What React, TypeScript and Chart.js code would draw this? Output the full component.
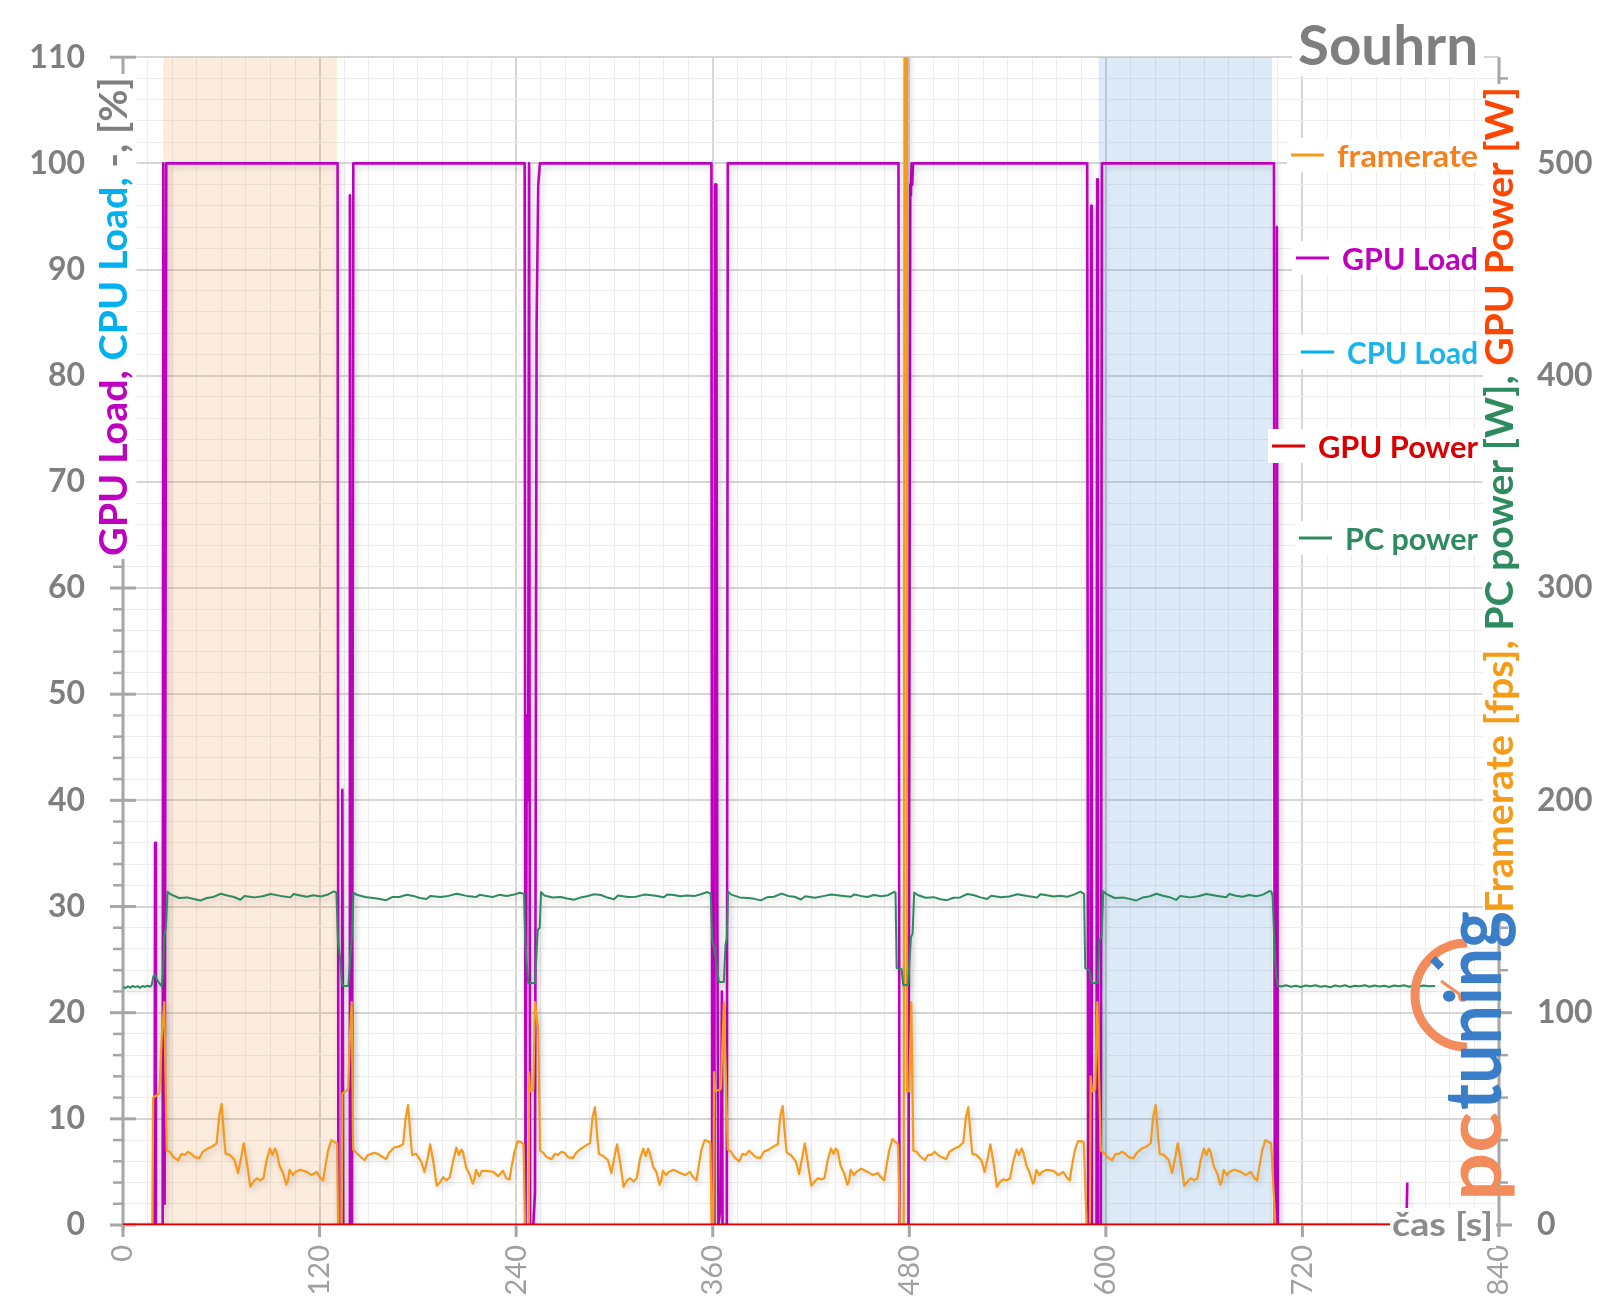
import React, { useEffect, useRef } from 'react';
import { Chart, registerables } from 'chart.js';

Chart.register(...registerables);

const FONT = 'Lato, "Open Sans", "DejaVu Sans", sans-serif';

// ---------------- tick labels ----------------
const xTickLabels = [0, 120, 240, 360, 480, 600, 720, 840];
const leftTickLabels = [0, 10, 20, 30, 40, 50, 60, 70, 80, 90, 100, 110];
const rightTickLabels = [0, 100, 200, 300, 400, 500];

// ---------------- highlighted intervals (s) ----------------
const bandStart = [24.6, 595.5];
const bandEnd = [130.5, 701.5];
const bandColor = ['rgba(240,140,60,0.17)', 'rgba(55,135,215,0.17)'];

// ---------------- GPU Load [%] (time s, value) ----------------
const gpuLoad: number[][] = [
  [0, 0], [19.2, 0], [19.6, 36], [20.1, 0], [24.2, 0], [24.6, 100], [25.4, 2], [26.4, 100],
  [131, 100], [131.5, 0], [133.5, 0], [133.9, 41], [134.4, 0], [138, 0], [138.5, 97], [139.1, 0], [139.8, 0], [140.6, 100],
  [245.2, 100], [245.7, 0], [246.5, 48], [247, 40], [247.4, 48], [247.9, 100], [248.5, 0], [250.5, 0], [251.5, 3], [252.5, 85], [253.5, 98], [254.5, 100],
  [359.2, 100], [359.7, 0], [361, 0], [361.4, 98], [361.8, 71], [362.2, 98], [362.8, 30], [363.5, 0], [365, 2], [365.6, 22], [366, 0], [368.6, 0], [369.2, 100],
  [473.4, 100], [474, 0], [479.5, 0], [480.6, 98], [481, 97], [481.4, 100], [481.8, 98], [482.3, 100],
  [588.6, 100], [589.2, 0], [590.6, 0], [591, 96], [591.4, 0], [594.3, 0], [594.7, 98.5], [595.1, 0], [596.9, 0], [597.6, 100],
  [702.6, 100], [703.1, 0], [704, 0], [704.4, 94], [705, 0], [783.5, 0], [784, 4],
];

// ---------------- CPU Load [%] and GPU Power [W] ----------------
const cpuLoad: number[][] = [[0, 0], [774, 0]];
const gpuPower: number[][] = [[0, 0], [774, 0]];

// ---------------- Framerate [fps] ----------------
const fpsBlockStart = [26.7, 140.5, 254.6, 369.2, 482.5, 596.9];
const fpsOffsets = [0, 2, 4, 7, 9, 11, 13, 15, 17, 20, 22, 25, 28, 30.5, 32, 33.5, 35, 36, 38.5, 41.5, 43.5, 45.5, 47, 49, 51, 53, 55, 57, 59, 61, 63, 64.5, 66, 67, 69, 71, 73, 74, 75, 77, 78.5, 81.5, 85.5, 88.5, 91.5, 93.5, 95.5, 96.5, 98.5, 100.5, 102.5, 104];
const fpsRun1 = [35, 34.5, 32, 30.5, 33.5, 33, 34.5, 33.5, 32, 31.5, 34.5, 36, 37, 38.5, 51, 57, 41.5, 33.5, 33, 30.5, 24.5, 32, 38.5, 29, 18, 20.5, 22, 21, 22, 30.5, 36, 33, 36, 34.5, 27.5, 24.5, 19, 21, 26, 23.5, 25, 26, 25, 23.5, 25, 22.5, 21, 26, 35, 40, 39, 38.5];
const fpsRun2 = [35.5, 34, 32.5, 30.5, 33, 33.5, 34, 33.5, 32.5, 31, 34, 36.5, 37, 38, 50, 56.5, 42, 33, 33.5, 30, 25, 31.5, 38, 29.5, 18.5, 20, 22.5, 21, 22.5, 30, 36.5, 33, 35.5, 34.5, 27, 24, 19.5, 21.5, 26, 23, 25.5, 25.5, 25, 23, 25.5, 22, 21.5, 26.5, 34.5, 39.5, 39, 38];
const fpsRun3 = [35, 34, 32, 31, 33.5, 33, 34.5, 34, 32, 31.5, 34, 36, 37.5, 38.5, 50.5, 55.5, 41, 33.5, 32.5, 30.5, 24.5, 32.5, 38, 29, 18, 21, 22, 20.5, 22, 31, 36, 32.5, 36, 34, 27.5, 25, 19, 21, 25.5, 23.5, 25, 26, 24.5, 23.5, 25, 22.5, 21, 26, 35.5, 40, 39.5, 38.5];
const fpsRun4 = [35.5, 34.5, 32, 30, 33.5, 33, 35, 33.5, 32, 31.5, 34.5, 35.5, 37, 38, 51, 56, 41.5, 34, 33, 30, 24, 32, 38.5, 28.5, 18.5, 20.5, 22, 21.5, 22, 30.5, 36, 33.5, 36, 35, 27.5, 24.5, 19, 20.5, 26, 23.5, 25, 26.5, 25, 23.5, 24.5, 22.5, 21, 26, 35, 40.5, 39, 38];
const fpsRun5 = [35, 34.5, 32.5, 30.5, 33, 33, 34.5, 33, 32, 31, 34.5, 36, 37, 39, 50.5, 55.5, 41.5, 33.5, 33, 30.5, 25, 32, 38, 29, 18, 20.5, 21.5, 21, 22, 30, 35.5, 33, 36, 34.5, 28, 24.5, 19.5, 21, 26, 23.5, 25, 26, 25.5, 23.5, 25, 22.5, 21, 26.5, 35, 39.5, 39.5, 39];
const fpsRun6 = [35, 34, 32, 30.5, 33.5, 33.5, 34.5, 33.5, 32, 31.5, 34, 36, 37, 38.5, 51, 56.5, 41.5, 33.5, 33, 30.5, 24.5, 32, 38.5, 29, 18.5, 20.5, 22, 21, 22, 30.5, 36, 33, 36, 34.5, 27.5, 24.5, 19, 21, 26, 23.5, 25, 26, 25, 23.5, 25, 22.5, 21, 26, 35, 40, 39, 38.5];
const fpsLead: number[][] = [[0, 0], [17.9, 0], [18.4, 60], [20.5, 61], [22.2, 62], [23.6, 88], [25.2, 105]];
const fpsGap1: number[][] = [[131.3, 0], [133.5, 0], [133.9, 62], [136, 63], [137.5, 64], [138.6, 90], [139.6, 105]];
const fpsGap2: number[][] = [[245.4, 0], [247.4, 0], [247.8, 72], [248.5, 63], [250.5, 64], [251.5, 105], [253.5, 92]];
const fpsGap3: number[][] = [[359.4, 0], [360.4, 0], [360.8, 72], [361.5, 63], [365, 64], [366.8, 105]];
const fpsGap4: number[][] = [[474.2, 0], [476.6, 0], [477.2, 700], [478.2, 700], [478.6, 63], [480, 63], [481.2, 105]];
const fpsGap5: number[][] = [[588.3, 0], [590.3, 0], [590.7, 70], [591.5, 63], [593.5, 64], [594.8, 105]];
const fpsTail: number[][] = [[703.5, 0], [774, 0]];

// ---------------- PC power [W] ----------------
const pcBlockStart = [27.2, 140.7, 255.2, 369.4, 483, 598.4];
const pcOffsets = [0, 2, 7, 12, 16, 20, 24, 28, 32.5, 36.5, 40.5, 44.5, 47, 53, 58, 63, 69, 75, 77, 81, 85, 89, 93.5, 97.5, 101.5];
const pcRun1 = [157, 155.7, 154, 154.3, 153.5, 152.8, 154, 154.5, 156, 155.2, 154.5, 153.2, 155, 154.3, 154.8, 155.9, 155, 154.3, 155.9, 155.2, 154.6, 155.3, 154.7, 155.5, 157.1];
const pcRun2 = [156.5, 155.5, 154.5, 154, 153.5, 153, 154.5, 154.5, 155.5, 155, 154, 153.5, 155, 154.5, 155, 156, 155, 154.5, 155.5, 155, 154.5, 155.5, 155, 155.5, 156.5];
const pcRun3 = [156.8, 155.2, 154.2, 154.5, 153.8, 153.2, 154.2, 154.8, 155.8, 155.4, 154.2, 153.4, 155.2, 154.5, 154.6, 155.6, 155.2, 154.4, 155.6, 155.4, 154.8, 155.2, 154.9, 155.8, 156.8];
const pcRun4 = [157, 155.6, 154.3, 154, 153.6, 152.9, 154.4, 154.6, 156.1, 155, 154.6, 153.3, 154.8, 154.1, 154.9, 155.7, 155.1, 154.6, 155.7, 155, 154.5, 155.4, 154.8, 155.3, 156.9];
const pcRun5 = [156.6, 155.4, 154.1, 154.4, 153.4, 153, 154.1, 154.3, 155.9, 155.3, 154.3, 153.5, 155.1, 154.4, 154.7, 155.8, 154.9, 154.2, 155.8, 155.3, 154.7, 155.1, 154.6, 155.6, 157];
const pcRun6 = [157.2, 155.8, 154, 154.2, 153.6, 152.8, 154.2, 154.7, 156, 155.1, 154.4, 153.1, 155, 154.3, 154.8, 155.9, 155.1, 154.4, 155.9, 155.1, 154.6, 155.4, 154.8, 155.6, 157.3];
const pcLead: number[][] = [[0, 112.2], [1.5, 111.6], [3, 112.4], [4.5, 111.8], [6, 112.6], [7.5, 112], [9, 112.5], [10.5, 111.7], [12, 112.6], [13.5, 112.1], [15, 112.7], [16.5, 112.2], [17.5, 113], [18.5, 117], [19.4, 118], [20.5, 116], [22, 114], [23.6, 112.5], [24.4, 118], [25.2, 136], [26.2, 140]];
const pcGap1: number[][] = [[130.3, 156.5], [131.2, 134], [132.6, 125], [133.6, 114], [134.5, 112.6], [137.6, 112.6], [138.6, 124.6], [139.6, 135]];
const pcGap2: number[][] = [[244.8, 156], [245.6, 132], [247.4, 114], [251.5, 114], [253.2, 139], [254.4, 140]];
const pcGap3: number[][] = [[358.8, 156], [359.7, 134], [361, 130], [363.8, 114.5], [366.8, 114.5], [367.8, 132], [368.6, 135]];
const pcGap4: number[][] = [[471.6, 156.5], [472.3, 121], [475.3, 120.5], [476.3, 113], [479.3, 113], [481, 135.6], [482, 137]];
const pcGap5: number[][] = [[586.7, 156], [587.4, 121], [589.9, 120], [591.5, 114], [595, 114], [596, 134], [597.4, 136]];
const pcTail: number[][] = [[701, 157], [701.8, 155], [703, 130], [703.9, 117.7], [704.8, 112.8], [707, 112.3], [710, 112.9], [713, 112.2], [716, 112.7], [719, 112.1], [722, 112.8], [725, 112.4], [728, 112.9], [731, 112.2], [734, 112.6], [737, 112], [740, 112.8], [743, 112.3], [746, 112.9], [749, 112.1], [752, 112.7], [755, 112.4], [758, 112.9], [761, 112.2], [764, 112.8], [767, 112.3], [770, 112.7], [773, 112.1], [776, 112.8], [779, 112.4], [782, 112.9], [785, 112.2], [788, 112.7], [791, 112.3], [794, 112.8], [797, 112.4], [801, 112.6]];

// ---------------- builders ----------------
const pts = (pairs: number[][]) => pairs.map(([x, y]) => ({ x, y }));
const run = (start: number, offsets: number[], values: number[]) =>
  offsets.map((o, i) => ({ x: Math.round((start + o) * 100) / 100, y: values[i] }));

const fpsRuns = [fpsRun1, fpsRun2, fpsRun3, fpsRun4, fpsRun5, fpsRun6];
const fpsGaps = [fpsGap1, fpsGap2, fpsGap3, fpsGap4, fpsGap5, fpsTail];
const pcRuns = [pcRun1, pcRun2, pcRun3, pcRun4, pcRun5, pcRun6];
const pcGaps = [pcGap1, pcGap2, pcGap3, pcGap4, pcGap5, pcTail];

function buildSeries(lead: number[][], starts: number[], offsets: number[], runs: number[][], gaps: number[][]) {
  const out = [...pts(lead)];
  runs.forEach((r, i) => {
    out.push(...run(starts[i], offsets, r));
    out.push(...pts(gaps[i]));
  });
  return out;
}

const C = {
  fps: '#F59A1B',
  fpsText: '#F5821F',
  gpuLoad: '#C000C0',
  cpuLoad: '#00B0F0',
  gpuPower: '#E00000',
  pc: '#2E8B5F',
  axis: '#A6A6A6',
  label: '#7F7F7F',
};

function fitText(ctx: CanvasRenderingContext2D, text: string, x: number, y: number, width: number, size: number, color: string) {
  ctx.save();
  ctx.font = `bold ${size}px ${FONT}`;
  const w = ctx.measureText(text).width;
  ctx.translate(x, y);
  ctx.scale(width / w, 1);
  ctx.fillStyle = color;
  ctx.textAlign = 'left';
  ctx.textBaseline = 'alphabetic';
  ctx.fillText(text, 0, 0);
  ctx.restore();
}

function rotatedSegments(ctx: CanvasRenderingContext2D, segs: [string, string][], baseX: number, bottomY: number, length: number, size: number, bg: boolean) {
  ctx.save();
  ctx.font = `bold ${size}px ${FONT}`;
  const total = ctx.measureText(segs.map((s) => s[0]).join('')).width;
  ctx.translate(baseX, bottomY);
  ctx.rotate(-Math.PI / 2);
  if (bg) {
    ctx.fillStyle = '#ffffff';
    ctx.fillRect(-3, -size * 0.8, length + 6, size * 1.05);
  }
  ctx.scale(length / total, 1);
  ctx.textAlign = 'left';
  ctx.textBaseline = 'alphabetic';
  let cx = 0;
  for (const [t, col] of segs) {
    ctx.fillStyle = col;
    ctx.fillText(t, cx, 0);
    cx += ctx.measureText(t).width;
  }
  ctx.restore();
}

const shadowPlugin = {
  id: 'lineShadow',
  beforeDatasetDraw(chart: any) {
    const c = chart.ctx;
    c.save();
    c.shadowColor = 'rgba(0,0,0,0.2)';
    c.shadowBlur = 6;
    c.shadowOffsetX = 2;
    c.shadowOffsetY = 3;
  },
  afterDatasetDraw(chart: any) {
    chart.ctx.restore();
  },
};

const decorPlugin = {
  id: 'decor',
  beforeDatasetsDraw(chart: any) {
    const { ctx, chartArea: a, scales } = chart;
    const sx = scales.x, sy = scales.y, sy2 = scales.y2;
    ctx.save();
    bandStart.forEach((s, i) => {
      const x0 = sx.getPixelForValue(s);
      const x1 = sx.getPixelForValue(bandEnd[i]);
      ctx.fillStyle = bandColor[i];
      ctx.fillRect(x0, a.top, x1 - x0, a.bottom - a.top);
    });
    ctx.strokeStyle = '#BFBFBF';
    ctx.lineWidth = 2;
    ctx.beginPath();
    ctx.moveTo(a.left, a.bottom);
    ctx.lineTo(a.right, a.bottom);
    ctx.stroke();
    ctx.strokeStyle = C.axis;
    ctx.lineWidth = 3;
    ctx.beginPath();
    ctx.moveTo(a.left, a.top);
    ctx.lineTo(a.left, a.bottom + 6);
    ctx.moveTo(a.right, a.top);
    ctx.lineTo(a.right, a.bottom + 6);
    ctx.stroke();
    for (let v = 0; v <= 110; v += 2) {
      const y = sy.getPixelForValue(v);
      ctx.beginPath();
      if (v % 10 === 0) {
        ctx.lineWidth = 3;
        ctx.moveTo(a.left - 13, y);
        ctx.lineTo(a.left + 13, y);
      } else {
        ctx.lineWidth = 2.5;
        ctx.moveTo(a.left - 10, y);
        ctx.lineTo(a.left, y);
      }
      ctx.stroke();
    }
    for (let v = 0; v <= 540; v += 20) {
      const y = sy2.getPixelForValue(v);
      ctx.beginPath();
      if (v % 100 === 0) {
        ctx.lineWidth = 3;
        ctx.moveTo(a.right - 13, y);
        ctx.lineTo(a.right + 13, y);
      } else {
        ctx.lineWidth = 2.5;
        ctx.moveTo(a.right, y);
        ctx.lineTo(a.right + 9, y);
      }
      ctx.stroke();
    }
    ctx.lineWidth = 3;
    for (const v of xTickLabels) {
      const x = sx.getPixelForValue(v);
      ctx.beginPath();
      ctx.moveTo(x, a.bottom);
      ctx.lineTo(x, a.bottom + 12);
      ctx.stroke();
    }
    ctx.restore();
  },
  afterDatasetsDraw(chart: any) {
    const { ctx } = chart;
    ctx.save();
    rotatedSegments(ctx, [['GPU Load,', C.gpuLoad], [' CPU Load,', C.cpuLoad], [' -, [%]', C.label]], 127, 556, 479, 38, true);
    rotatedSegments(ctx, [['Framerate [fps],', '#F79A16'], [' PC power [W],', C.pc], [' GPU Power [W]', '#FF4500']], 1513, 913, 826, 38, true);

    const legend: [string, string, string, number, number][] = [
      ['framerate', C.fps, C.fpsText, 155, 141],
      ['GPU Load', C.gpuLoad, C.gpuLoad, 258, 136],
      ['CPU Load', C.cpuLoad, '#1AB4EE', 352, 131],
      ['GPU Power', C.gpuPower, '#D80000', 446, 160],
      ['PC power', C.pc, C.pc, 538, 133],
    ];
    const right = 1478;
    for (const [t, lineCol, textCol, y, w] of legend) {
      const left = right - w;
      ctx.fillStyle = '#ffffff';
      ctx.fillRect(left - 50, y - 17, w + 54, 34);
      ctx.strokeStyle = lineCol;
      ctx.lineWidth = 3;
      ctx.beginPath();
      ctx.moveTo(left - 46, y);
      ctx.lineTo(left - 13, y);
      ctx.stroke();
      fitText(ctx, t, left, y + 11.5, w, 30, textCol);
    }

    ctx.fillStyle = '#ffffff';
    ctx.fillRect(1292, 14, 192, 62);
    fitText(ctx, 'Souhrn', 1298, 65, 180, 55, '#7F7F7F');

    ctx.fillStyle = '#ffffff';
    ctx.fillRect(1390, 1208, 106, 40);
    fitText(ctx, 'čas [s]', 1392, 1236, 101, 32, '#8C8C8C');

    ctx.strokeStyle = '#F28C5C';
    ctx.lineWidth = 9;
    ctx.beginPath();
    ctx.arc(1467, 995, 52, Math.PI / 2, Math.PI * 1.5);
    ctx.stroke();
    ctx.save();
    ctx.translate(1437, 963);
    ctx.rotate(-Math.PI / 4);
    ctx.fillStyle = '#3A7DC9';
    ctx.fillRect(-4, -6, 8, 12);
    ctx.restore();
    ctx.lineWidth = 3;
    ctx.beginPath();
    ctx.moveTo(1441, 981);
    ctx.lineTo(1462, 996);
    ctx.stroke();
    ctx.fillStyle = '#F28C5C';
    ctx.beginPath();
    ctx.arc(1463, 997, 5, 0, Math.PI * 2);
    ctx.fill();
    rotatedSegments(ctx, [['pc', '#F28C5C']], 1501, 1201, 89, 78, false);
    rotatedSegments(ctx, [['tuning', '#3A7DC9']], 1501, 1110, 199, 78, false);
    ctx.restore();
  },
};

export default function App() {
  const ref = useRef<HTMLCanvasElement>(null);
  useEffect(() => {
    const canvas = ref.current;
    if (!canvas) return;
    const fpsData = buildSeries(fpsLead, fpsBlockStart, fpsOffsets, fpsRuns, fpsGaps);
    const pcData = buildSeries(pcLead, pcBlockStart, pcOffsets, pcRuns, pcGaps);
    const gridColor = (major: (v: number) => boolean) => (c: any) => (c.tick && major(c.tick.value) ? '#D6D6D6' : '#EDEDED');
    const gridWidth = (major: (v: number) => boolean) => (c: any) => (c.tick && major(c.tick.value) ? 2 : 1);
    const isXMajor = (v: number) => v % 120 === 0;
    const isYMajor = (v: number) => v % 10 === 0;
    const chart = new Chart(canvas, {
      type: 'line',
      data: {
        datasets: [
          { label: 'GPU Power', data: pts(gpuPower), yAxisID: 'y2', borderColor: C.gpuPower, borderWidth: 3, order: 0 },
          { label: 'PC power', data: pcData, yAxisID: 'y2', borderColor: C.pc, borderWidth: 2, order: 1 },
          { label: 'framerate', data: fpsData, yAxisID: 'y2', borderColor: C.fps, borderWidth: 2.2, order: 2 },
          { label: 'GPU Load', data: pts(gpuLoad), yAxisID: 'y', borderColor: C.gpuLoad, borderWidth: 2.6, order: 3 },
          { label: 'CPU Load', data: pts(cpuLoad), yAxisID: 'y', borderColor: C.cpuLoad, borderWidth: 2, order: 4 },
        ] as any,
      },
      options: {
        responsive: false,
        animation: false,
        devicePixelRatio: 1,
        events: [],
        layout: { padding: { top: 53, left: 0, right: 0, bottom: 0 } },
        elements: { point: { radius: 0 }, line: { tension: 0, borderJoinStyle: 'round' } },
        plugins: { legend: { display: false }, tooltip: { enabled: false }, title: { display: false } },
        scales: {
          x: {
            type: 'linear',
            position: 'bottom',
            min: 0,
            max: 840,
            border: { display: false },
            grid: { color: gridColor(isXMajor), lineWidth: gridWidth(isXMajor), drawTicks: false },
            ticks: {
              stepSize: 15,
              autoSkip: false,
              maxRotation: 90,
              minRotation: 90,
              padding: 20,
              color: '#A0A0A0',
              font: { family: FONT, size: 29 },
              callback: (v: any) => (xTickLabels.includes(Number(v)) ? String(v) : ''),
            },
            afterFit: (s: any) => { s.height = 89; },
          },
          y: {
            type: 'linear',
            position: 'left',
            min: 0,
            max: 110,
            border: { display: false },
            grid: { color: gridColor(isYMajor), lineWidth: gridWidth(isYMajor), drawTicks: false },
            ticks: {
              stepSize: 2,
              autoSkip: false,
              padding: 38,
              color: C.label,
              font: { family: FONT, size: 32, weight: 'bold' },
              callback: (v: any) => (leftTickLabels.includes(Number(v)) ? String(v) : ''),
            },
            afterFit: (s: any) => { s.width = 123; },
          },
          y2: {
            type: 'linear',
            position: 'right',
            min: 0,
            max: 550,
            border: { display: false },
            grid: { drawOnChartArea: false, drawTicks: false },
            ticks: {
              stepSize: 20,
              autoSkip: false,
              padding: 38,
              color: C.label,
              font: { family: FONT, size: 32, weight: 'bold' },
              callback: (v: any) => (rightTickLabels.includes(Number(v)) ? String(v) : ''),
            },
            afterFit: (s: any) => { s.width = 101; },
          },
        },
      } as any,
      plugins: [shadowPlugin, decorPlugin],
    });
    return () => chart.destroy();
  }, []);
  return (
    <div style={{ position: 'absolute', left: 0, top: 0, width: 1600, height: 1314, background: '#ffffff' }}>
      <canvas ref={ref} width={1600} height={1314} style={{ display: 'block', width: 1600, height: 1314 }} />
    </div>
  );
}
